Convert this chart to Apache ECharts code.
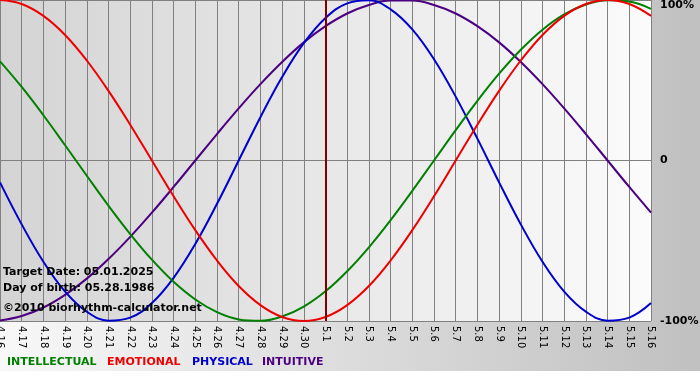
<!DOCTYPE html>
<html>
<head>
<meta charset="utf-8">
<script src="https://cdn.jsdelivr.net/npm/echarts@6/dist/echarts.min.js"></script>
<style>
html,body{margin:0;padding:0;background:#fff;}
#chart{width:700px;height:380px;}
</style>
</head>
<body>
<div id="chart"></div>
<script>
var days = ['4.16','4.17','4.18','4.19','4.20','4.21','4.22','4.23','4.24','4.25','4.26','4.27','4.28','4.29','4.30',
  '5.1','5.2','5.3','5.4','5.5','5.6','5.7','5.8','5.9','5.10','5.11','5.12','5.13','5.14','5.15','5.16'];
var physical = [-0.136,-0.398,-0.631,-0.817,-0.942,-0.998,-0.979,-0.888,-0.731,-0.520,-0.270,0,0.270,0.520,0.731,
  0.888,0.979,0.998,0.942,0.817,0.631,0.398,0.136,-0.136,-0.398,-0.631,-0.817,-0.942,-0.998,-0.979,-0.888];
var emotional = [1,0.975,0.901,0.782,0.623,0.434,0.223,0,-0.223,-0.434,-0.623,-0.782,-0.901,-0.975,-1,
  -0.975,-0.901,-0.782,-0.623,-0.434,-0.223,0,0.223,0.434,0.623,0.782,0.901,0.975,1,0.975,0.901];
var intellectual = [0.618,0.458,0.282,0.095,-0.095,-0.282,-0.458,-0.618,-0.756,-0.866,-0.945,-0.990,-0.999,-0.972,-0.910,
  -0.815,-0.690,-0.541,-0.372,-0.189,0,0.189,0.372,0.541,0.690,0.815,0.910,0.972,0.999,0.990,0.945];
var intuitive = [-0.997,-0.969,-0.916,-0.837,-0.736,-0.614,-0.476,-0.325,-0.165,0,0.165,0.325,0.476,0.614,0.736,
  0.837,0.916,0.969,0.997,0.997,0.969,0.916,0.837,0.736,0.614,0.476,0.325,0.165,0,-0.165,-0.325];
var targetDay = '5.1';
var yTicks = {'1':'100%','0':'0','-1':'-100%'};
var legendNames = ['INTELLECTUAL','EMOTIONAL','PHYSICAL','INTUITIVE'];
var infoLines = ['Target Date: 05.01.2025','Day of birth: 05.28.1986','\u00A92010 biorhythm-calculator.net'];

var FONT = '"DejaVu Sans", Verdana, sans-serif';
var colors = {INTELLECTUAL:'#008000', EMOTIONAL:'#ee0000', PHYSICAL:'#0000cc', INTUITIVE:'#4b0082'};
var chart = echarts.init(document.getElementById('chart'), null, {renderer:'canvas'});

function lineSeries(name, data, extra){
  var s = {name:name, type:'line', data:data, smooth:0.4, symbol:'none', z:3,
    lineStyle:{color:colors[name], width:2}, itemStyle:{color:colors[name]}};
  for (var k in extra) s[k] = extra[k];
  return s;
}
var legendX = [7,107,192,262];
var graphics = [
  {type:'rect', left:0, top:371, shape:{width:700,height:9}, style:{fill:'#ffffff'}, z:-1, silent:true}
];
legendNames.forEach(function(n,i){
  graphics.push({type:'text', left:legendX[i], top:357, z:10,
    style:{text:n, fill:colors[n], font:'bold 11px '+FONT}});
});
var infoY = [267,283,303];
infoLines.forEach(function(t,i){
  graphics.push({type:'text', left:3, top:infoY[i], z:10,
    style:{text:t, fill:'#000', font:'bold 11px '+FONT}});
});

chart.setOption({
  animation:false,
  backgroundColor:{type:'linear',x:0,y:0,x2:1,y2:0,colorStops:[{offset:0,color:'#f8f8f8'},{offset:1,color:'#c0c0c0'}]},
  grid:{left:0, right:49, top:0, bottom:59, show:true, borderWidth:0, containLabel:false, outerBoundsMode:'none',
    backgroundColor:{type:'linear',x:0,y:0,x2:1,y2:0,colorStops:[{offset:0,color:'#d4d4d4'},{offset:1,color:'#fbfbfb'}]}},
  xAxis:{type:'category', data:days, boundaryGap:false,
    axisLine:{show:true, lineStyle:{color:'#808080', width:1}},
    axisTick:{show:true, length:4, interval:0, lineStyle:{color:'#808080'}},
    splitLine:{show:true, interval:0, lineStyle:{color:'#808080', width:1}},
    axisLabel:{rotate:-90, interval:0, fontSize:10, color:'#000', fontFamily:FONT, margin:5}},
  yAxis:{type:'value', position:'right', min:-1, max:1, interval:1,
    axisLine:{show:false}, axisTick:{show:false},
    splitLine:{show:true, lineStyle:{color:'#808080', width:1}},
    axisLabel:{formatter:function(v){return yTicks[String(v)];}, fontSize:11, fontWeight:'bold', color:'#000', fontFamily:FONT, margin:9,
      verticalAlignMaxLabel:'top'}},
  graphic:graphics,
  series:[
    lineSeries('INTUITIVE', intuitive, {}),
    lineSeries('PHYSICAL', physical, {}),
    lineSeries('INTELLECTUAL', intellectual, {}),
    lineSeries('EMOTIONAL', emotional, {markLine:{silent:true, symbol:['none','none'], label:{show:false},
      lineStyle:{color:'#800000', width:2, type:'solid'}, data:[{xAxis:targetDay}]}})
  ]
});
</script>
</body>
</html>
